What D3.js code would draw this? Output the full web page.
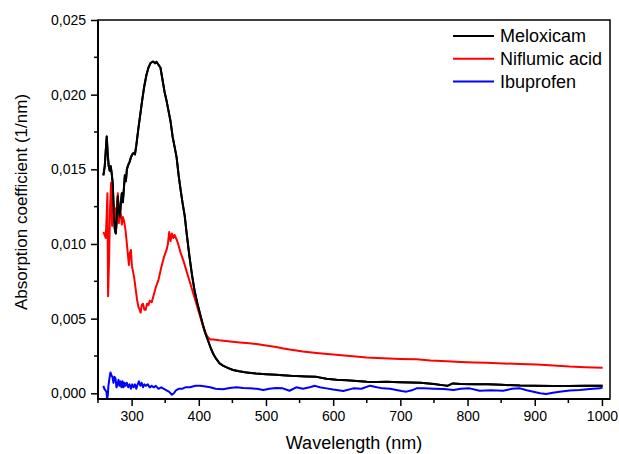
<!DOCTYPE html>
<html><head><meta charset="utf-8">
<script src="https://cdn.jsdelivr.net/npm/d3@7"></script>
<style>body{margin:0;background:#fff}svg{display:block;font-family:"Liberation Sans",Arial,sans-serif}</style>
</head><body><svg id="c" width="619" height="454"></svg>
<script>
const seriesNames = ["Meloxicam", "Niflumic acid", "Ibuprofen"];
const seriesColors = ["#000000", "#ff0000", "#0000ff"];
const xTicks = [300, 400, 500, 600, 700, 800, 900, 1000];
const yTicks = [0, 0.005, 0.010, 0.015, 0.020, 0.025];
const xLabel = "Wavelength (nm)";
const yLabel = "Absorption coefficient (1/nm)";

const meloxicam = [[258,0.0146],[260,0.0152],[261.5,0.0162],[263,0.0172],[264.5,0.0160],[266,0.0152],[267.5,0.0149],[269,0.0152],[270.5,0.0147],[272,0.0140],[273.5,0.0122],[275,0.0110],[276.5,0.0107],[278,0.0118],[279.5,0.0132],[281,0.0122],[282.5,0.0118],[284,0.0127],[285.5,0.0134],[287,0.0128],[288.5,0.0137],[290,0.0146],[291.5,0.0142],[293,0.0150],[295,0.0153],[297,0.0155],[299,0.0158],[301,0.0160],[303,0.0161],[305,0.0160],[307,0.0166],[310,0.0177],[313,0.0187],[316,0.0197],[319,0.0206],[322,0.0213],[325,0.0218],[328,0.0221],[331,0.0222],[333,0.0222],[335,0.0221],[337,0.0222],[340,0.0220],[343,0.0218],[346,0.0210],[349,0.0202],[352,0.0196],[355,0.0189],[358,0.0182],[361,0.0172],[364,0.0165],[367,0.0158],[370,0.0146],[373,0.0136],[376,0.0127],[379,0.0119],[382,0.0107],[386,0.0092],[390,0.0079],[394,0.0068],[398,0.0060],[402,0.0053],[406,0.0046],[410,0.0040],[414,0.0035],[418,0.0030],[422,0.0026],[426,0.0023],[431,0.0020],[436,0.00185],[443,0.0017],[451,0.00156],[460,0.00147],[471,0.00140],[485,0.00132],[500,0.00128],[515,0.00124],[530,0.00120],[545,0.00115],[560,0.00112],[575,0.00110],[590,0.00097],[605,0.00090],[620,0.00087],[635,0.00082],[650,0.00078],[665,0.00076],[680,0.00077],[699,0.00074],[715,0.00072],[730,0.00070],[750,0.00062],[765,0.00053],[770,0.00050],[778,0.00066],[790,0.00063],[810,0.00061],[830,0.00060],[850,0.00057],[878,0.00052],[900,0.00051],[927,0.00049],[950,0.00049],[975,0.00050],[1001,0.00051]];

const niflumicAcid = [[258,0.0108],[260,0.0106],[261.5,0.0104],[263,0.0120],[264,0.0134],[265,0.0065],[266.5,0.0090],[268,0.0125],[269.5,0.0141],[271,0.0112],[272.5,0.0128],[274,0.0118],[275.5,0.0124],[277,0.0110],[278.5,0.0128],[279.5,0.0134],[281,0.0114],[282.5,0.0122],[284,0.0120],[285.5,0.0113],[287,0.0118],[289,0.0115],[291,0.0109],[293,0.0100],[294.5,0.0093],[296,0.0086],[297.5,0.0094],[299,0.0096],[300.5,0.0085],[302,0.0082],[304,0.0077],[306,0.0070],[308,0.0063],[310,0.0058],[312,0.0056],[313.5,0.0054],[315,0.0059],[317,0.0060],[319,0.0056],[321,0.0056],[323,0.0060],[325,0.0059],[327,0.0062],[330,0.0061],[333,0.0066],[336,0.0071],[340,0.0076],[344,0.0084],[348,0.0091],[352,0.0096],[354,0.0100],[356,0.0108],[358,0.0102],[360,0.0107],[362,0.0104],[364,0.0106],[367,0.0103],[370,0.0099],[373,0.0094],[377,0.0089],[381,0.0083],[385,0.0077],[389,0.0071],[393,0.0065],[397,0.0059],[401,0.0053],[405,0.0047],[409,0.0041],[413,0.0038],[417,0.0036],[422,0.0036],[430,0.00355],[440,0.0035],[450,0.00345],[461,0.0034],[475,0.00335],[486,0.0033],[500,0.0032],[515,0.0031],[526,0.0030],[540,0.0029],[555,0.0028],[575,0.0027],[600,0.0026],[625,0.0025],[650,0.0024],[674,0.00234],[700,0.0023],[724,0.00228],[745,0.0022],[769,0.00214],[790,0.0021],[810,0.00207],[828,0.00205],[853,0.0020],[878,0.00196],[903,0.00193],[928,0.00186],[952,0.00179],[975,0.00175],[1001,0.00171]];

const ibuprofen = [[258,0.0005],[259.5,0.0003],[261,0.0002],[262.5,0.0001],[263.5,-0.0003],[264.5,-0.0002],[265.5,0.0005],[267,0.0010],[268.5,0.0014],[270,0.0012],[271.5,0.0011],[273,0.0007],[274.5,0.0011],[276,0.0010],[277.5,0.0004],[279,0.0006],[280.5,0.0009],[282,0.0005],[283.5,0.0008],[285,0.0004],[286.5,0.0008],[288,0.0004],[289.5,0.0007],[291,0.0005],[293,0.0007],[295,0.0004],[297,0.0006],[299,0.0003],[301,0.0006],[303,0.0004],[305,0.0006],[307,0.0003],[309,0.0006],[311,0.0008],[313,0.0005],[315,0.0007],[317,0.0004],[319,0.0006],[321,0.0005],[324,0.0006],[327,0.0004],[330,0.0005],[333,0.0004],[336,0.0005],[340,0.0003],[344,0.0004],[348,0.0003],[352,0.0002],[356,0.0001],[360,-0.0001],[363,0.0000],[366,0.0002],[370,0.0003],[375,0.0003],[380,0.0004],[387,0.0004],[395,0.0005],[402,0.0005],[410,0.00045],[417,0.0004],[425,0.0003],[436,0.00027],[446,0.00035],[456,0.0004],[466,0.00035],[476,0.00033],[486,0.0003],[496,0.00022],[505,0.0003],[515,0.00035],[525,0.00033],[535,0.00017],[545,0.0004],[555,0.0003],[565,0.0004],[573,0.0005],[580,0.0004],[590,0.00033],[600,0.00025],[615,0.00015],[630,0.00033],[642,0.0003],[655,0.00051],[665,0.0004],[674,0.00033],[685,0.0003],[694,0.00022],[702,0.00015],[709,0.00011],[717,0.0002],[724,0.00033],[735,0.00033],[750,0.0003],[765,0.00028],[779,0.00022],[790,0.0003],[803,0.00033],[818,0.00017],[835,0.0002],[853,0.00017],[866,0.0003],[878,0.00033],[888,0.0002],[898,0.00011],[908,0.0],[917,-0.00005],[927,0.00003],[937,0.00011],[952,0.00018],[967,0.00022],[982,0.00028],[997,0.00033],[1001,0.0004]];

const allSeries = [meloxicam, niflumicAcid, ibuprofen];

const svg = d3.select("#c");
const L = 98, R = 610, T = 20, B = 399;
const x = d3.scaleLinear().domain([250, 1012]).range([L, R]);
const y = d3.scaleLinear().domain([-0.000382, 0.025]).range([B, T]);
const fmt = v => d3.format(".3f")(v).replace(".", ",");

const xMinor = d3.range(250, 1001, 50).filter(v => !xTicks.includes(v));
const yMinor = d3.range(0.0025, 0.025, 0.005);

const xAxis = d3.axisBottom(x).tickValues(xTicks).tickFormat(d3.format("d")).tickSize(7).tickPadding(5);
const gx = svg.append("g").attr("transform", `translate(0,${B})`).call(xAxis);
gx.select(".domain").remove();
gx.selectAll("line").attr("stroke-width", 1.5);
gx.selectAll("text").attr("font-size", 14).attr("font-family", '"Liberation Sans",Arial,sans-serif').attr("fill", "#000");
gx.selectAll(".minor").data(xMinor).enter().append("line")
  .attr("x1", d => x(d)).attr("x2", d => x(d)).attr("y1", 0).attr("y2", 4)
  .attr("stroke", "#000").attr("stroke-width", 1.5);

const yAxis = d3.axisLeft(y).tickValues(yTicks).tickFormat(fmt).tickSize(7).tickPadding(5);
const gy = svg.append("g").attr("transform", `translate(${L},0)`).call(yAxis);
gy.select(".domain").remove();
gy.selectAll("line").attr("stroke-width", 1.5);
gy.selectAll("text").attr("font-size", 14).attr("font-family", '"Liberation Sans",Arial,sans-serif').attr("fill", "#000");
gy.selectAll(".minor").data(yMinor).enter().append("line")
  .attr("x1", -4).attr("x2", 0).attr("y1", d => y(d)).attr("y2", d => y(d))
  .attr("stroke", "#000").attr("stroke-width", 1.5);

const line = d3.line().x(d => x(d[0])).y(d => y(d[1]));
svg.append("g").selectAll("path").data(allSeries).enter().append("path")
  .attr("d", line).attr("fill", "none")
  .attr("stroke", (d, i) => seriesColors[i]).attr("stroke-width", 2)
  .attr("stroke-linejoin", "round");
svg.append("path").datum(meloxicam).attr("d", line).attr("fill", "none")
  .attr("stroke", seriesColors[0]).attr("stroke-width", 2).attr("stroke-linejoin", "round");

svg.append("rect").attr("x", L).attr("y", T).attr("width", R - L).attr("height", B - T)
  .attr("fill", "none").attr("stroke", "#000").attr("stroke-width", 1.5);
svg.append("line").attr("x1", L).attr("x2", L).attr("y1", T).attr("y2", B + 1).attr("stroke", "#000").attr("stroke-width", 2);
svg.append("line").attr("x1", L - 1).attr("x2", R).attr("y1", B).attr("y2", B).attr("stroke", "#000").attr("stroke-width", 2);

const lg = svg.append("g");
seriesNames.forEach((n, i) => {
  const yy = 36 + i * 22.7;
  lg.append("line").attr("x1", 453).attr("x2", 494).attr("y1", yy).attr("y2", yy)
    .attr("stroke", seriesColors[i]).attr("stroke-width", 2);
  lg.append("text").attr("x", 500).attr("y", yy).attr("dy", "0.35em")
    .attr("font-size", 18).attr("fill", "#000").text(n);
});

svg.append("text").attr("x", (L + R) / 2).attr("y", 449).attr("text-anchor", "middle")
  .attr("font-size", 18).attr("fill", "#000").text(xLabel);
svg.append("text").attr("transform", `translate(27,${202}) rotate(-90)`).attr("text-anchor", "middle")
  .attr("font-size", 17).attr("fill", "#000").text(yLabel);
</script></body></html>
